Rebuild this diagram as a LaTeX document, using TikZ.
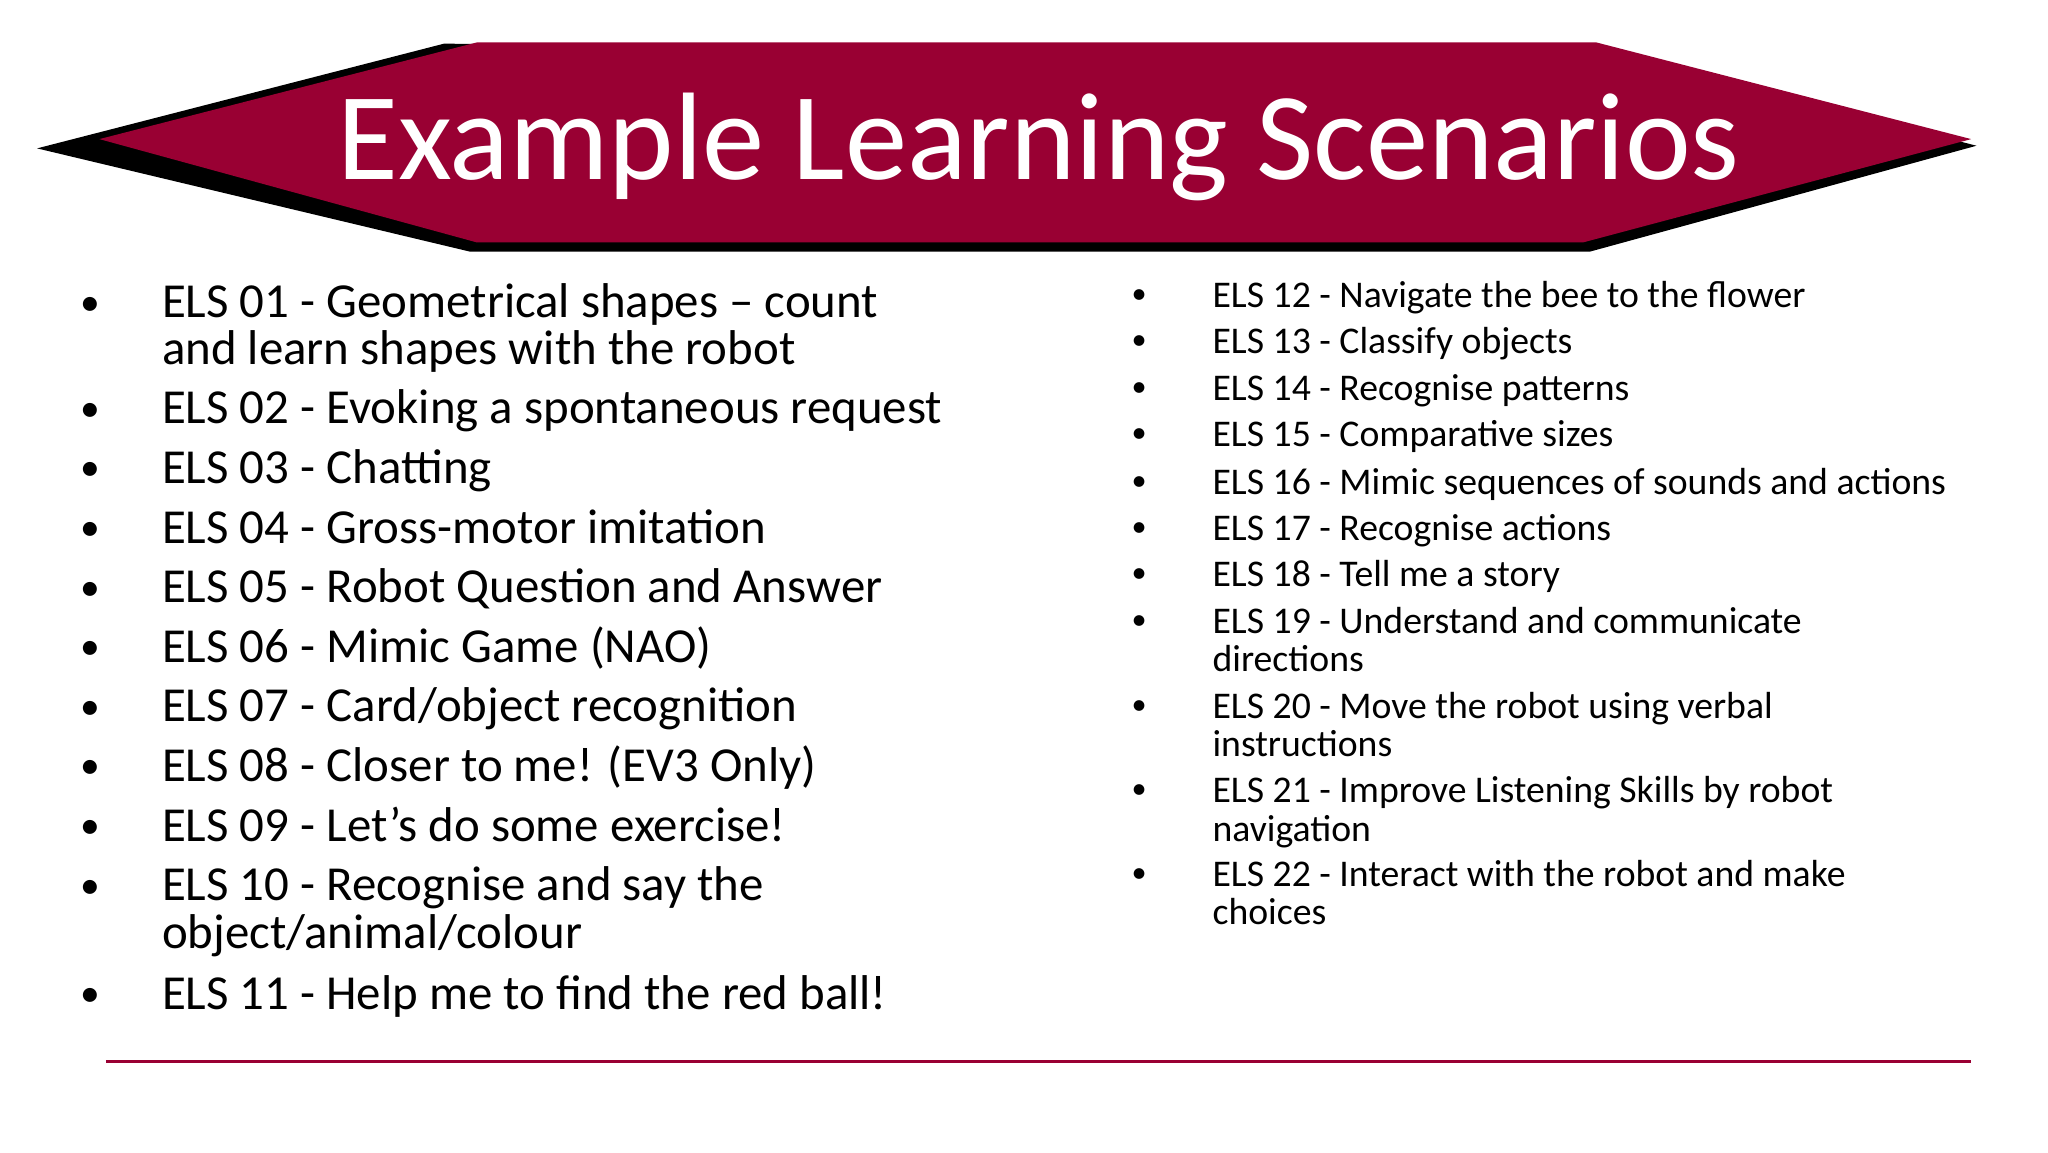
\documentclass[tikz,border=0pt]{standalone}
\usepackage{fontspec}
\setmainfont{Carlito}
\definecolor{banner}{HTML}{990033}
\begin{document}
\begin{tikzpicture}[x=0.02cm,y=-0.02cm,
  L/.style={anchor=base west,inner sep=0pt,font=\fontsize{21}{25.5}\selectfont},
  R/.style={anchor=base west,inner sep=0pt,font=\fontsize{16.2}{16.2}\selectfont},
  LB/.style={anchor=base,inner sep=0pt,font=\fontsize{17}{17}\selectfont},
  RB/.style={anchor=base,inner sep=0pt,font=\fontsize{13}{13}\selectfont}]
\useasboundingbox (0,0) rectangle (1546,870);
\fill[black] (28,112) -- (335,33) -- (1200,35) -- (1492,110) -- (1200,190) -- (355,190) -- cycle;
\fill[banner] (75,105) -- (360,32) -- (1205,32) -- (1488,105) -- (1195,183) -- (360,183) -- cycle;
\node[white,inner sep=0pt,font=\fontsize{53.5}{53.5}\selectfont] (title) at (784,111) {Example Learning Scenarios};
\draw[banner,line width=1.2pt] (80,801) -- (1488,801);
\foreach \y/\t in {240/{ELS 01 - Geometrical shapes – count},
 320/{ELS 02 - Evoking a spontaneous request},
 365/{ELS 03 - Chatting},
 410/{ELS 04 - Gross-motor imitation},
 455/{ELS 05 - Robot Question and Answer},
 500/{ELS 06 - Mimic Game (NAO)},
 545/{ELS 07 - Card/object recognition},
 590/{ELS 08 - Closer to me! (EV3 Only)},
 635/{ELS 09 - Let’s do some exercise!},
 680/{ELS 10 - Recognise and say the},
 762/{ELS 11 - Help me to find the red ball!}}{
 \node[LB] (lb\y) at (68,\y-2) {•};
 \node[L] (l\y) at (122,\y) {\t};}
\foreach \y/\t in {275/{and learn shapes with the robot},
 716/{object/animal/colour}}{
 \node[L] (lc\y) at (122,\y) {\t};}
\foreach \y/\t in {232/{ELS 12 - Navigate the bee to the flower},
 267/{ELS 13 - Classify objects},
 302/{ELS 14 - Recognise patterns},
 337/{ELS 15 - Comparative sizes},
 373/{ELS 16 - Mimic sequences of sounds and actions},
 408/{ELS 17 - Recognise actions},
 443/{ELS 18 - Tell me a story},
 478/{ELS 19 - Understand and communicate},
 542/{ELS 20 - Move the robot using verbal},
 606/{ELS 21 - Improve Listening Skills by robot},
 669/{ELS 22 - Interact with the robot and make}}{
 \node[RB] (rb\y) at (860,\y-3) {•};
 \node[R] (r\y) at (915,\y) {\t};}
\foreach \y/\t in {507/{directions},
 571/{instructions},
 635/{navigation},
 698/{choices}}{
 \node[R] (rc\y) at (915,\y) {\t};}
\end{tikzpicture}
\end{document}
